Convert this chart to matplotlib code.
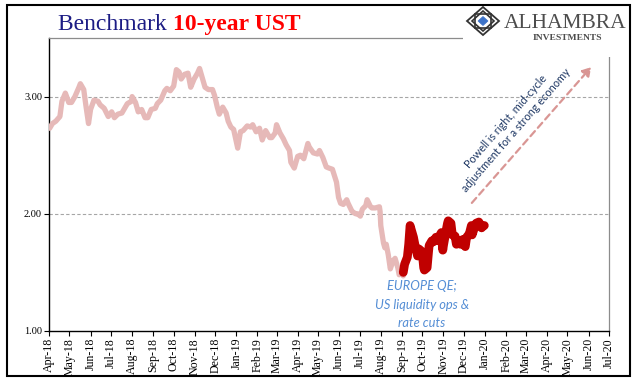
import matplotlib
matplotlib.use('Agg')
import matplotlib.pyplot as plt
from matplotlib.patches import Rectangle, Polygon, FancyArrowPatch
import pandas as pd

# ---------------- data ----------------
pink_dates = ['2018-04-02','2018-04-06','2018-04-11','2018-04-17','2018-04-20','2018-04-25','2018-04-30',
              '2018-05-04','2018-05-09','2018-05-15','2018-05-17','2018-05-22','2018-05-25','2018-05-29',
              '2018-06-01','2018-06-06','2018-06-12','2018-06-15','2018-06-21','2018-06-27',
              '2018-07-02','2018-07-06','2018-07-11','2018-07-17','2018-07-20','2018-07-25','2018-07-31',
              '2018-08-01','2018-08-06','2018-08-10','2018-08-15','2018-08-20','2018-08-24','2018-08-29',
              '2018-09-04','2018-09-07','2018-09-12','2018-09-18','2018-09-21','2018-09-26',
              '2018-10-01','2018-10-05','2018-10-09','2018-10-12','2018-10-17','2018-10-22','2018-10-26','2018-10-31',
              '2018-11-05','2018-11-08','2018-11-13','2018-11-16','2018-11-21','2018-11-27','2018-11-30',
              '2018-12-04','2018-12-07','2018-12-12','2018-12-17','2018-12-20','2018-12-24','2018-12-28',
              '2019-01-03','2019-01-07','2019-01-11','2019-01-17','2019-01-22','2019-01-25','2019-01-30',
              '2019-02-04','2019-02-08','2019-02-13','2019-02-19','2019-02-22','2019-02-27',
              '2019-03-01','2019-03-06','2019-03-11','2019-03-15','2019-03-20','2019-03-22','2019-03-27',
              '2019-04-01','2019-04-05','2019-04-10','2019-04-16','2019-04-18','2019-04-24','2019-04-30',
              '2019-05-03','2019-05-08','2019-05-13','2019-05-17','2019-05-22','2019-05-28','2019-05-31',
              '2019-06-03','2019-06-07','2019-06-12','2019-06-14','2019-06-19','2019-06-20','2019-06-25','2019-06-28',
              '2019-07-02','2019-07-05','2019-07-10','2019-07-12','2019-07-17','2019-07-19','2019-07-24','2019-07-30','2019-07-31',
              '2019-08-01','2019-08-05','2019-08-07','2019-08-09','2019-08-12','2019-08-15','2019-08-19','2019-08-22',
              '2019-08-26','2019-08-28','2019-08-30','2019-09-03']
pink_vals = [2.73,2.77,2.79,2.83,2.96,3.03,2.95,
             2.95,3.00,3.08,3.11,3.06,2.93,2.77,
             2.89,2.97,2.96,2.93,2.90,2.83,
             2.87,2.82,2.85,2.86,2.89,2.94,2.96,
             3.00,2.95,2.87,2.89,2.82,2.82,2.89,
             2.90,2.94,2.97,3.05,3.07,3.05,
             3.09,3.23,3.21,3.15,3.19,3.20,3.08,3.15,
             3.20,3.24,3.14,3.08,3.06,3.06,3.01,
             2.91,2.85,2.91,2.86,2.79,2.74,2.72,
             2.56,2.70,2.71,2.75,2.74,2.76,2.70,
             2.73,2.63,2.71,2.65,2.65,2.69,
             2.76,2.69,2.64,2.59,2.54,2.44,2.39,
             2.49,2.50,2.47,2.60,2.57,2.52,2.51,
             2.54,2.48,2.40,2.39,2.38,2.27,2.14,
             2.09,2.08,2.12,2.09,2.03,2.02,2.00,2.00,
             1.98,2.04,2.07,2.12,2.06,2.05,2.05,2.06,2.02,
             1.90,1.75,1.71,1.74,1.65,1.53,1.60,1.62,
             1.54,1.48,1.50,1.47]

red_dates = ['2019-09-03','2019-09-05','2019-09-09','2019-09-11','2019-09-13','2019-09-16','2019-09-18',
             '2019-09-20','2019-09-24','2019-09-26','2019-09-30','2019-10-02','2019-10-03','2019-10-04',
             '2019-10-08','2019-10-10','2019-10-11','2019-10-15','2019-10-17','2019-10-21','2019-10-23',
             '2019-10-25','2019-10-29','2019-10-31','2019-11-01','2019-11-05','2019-11-07','2019-11-08',
             '2019-11-12','2019-11-14','2019-11-18','2019-11-20','2019-11-22','2019-11-26','2019-11-29',
             '2019-12-03','2019-12-05','2019-12-09','2019-12-12','2019-12-13','2019-12-17','2019-12-19',
             '2019-12-23','2019-12-26','2019-12-27','2019-12-30','2019-12-31']
red_vals = [1.50,1.57,1.63,1.74,1.90,1.84,1.80,
            1.74,1.64,1.70,1.68,1.60,1.54,1.52,
            1.54,1.67,1.73,1.77,1.76,1.80,1.77,
            1.80,1.84,1.69,1.73,1.86,1.92,1.94,
            1.92,1.82,1.81,1.74,1.77,1.74,1.78,
            1.72,1.80,1.83,1.90,1.82,1.89,1.92,
            1.93,1.90,1.88,1.90,1.90]

month_ticks = ['Apr-18','May-18','Jun-18','Jul-18','Aug-18','Sep-18','Oct-18','Nov-18','Dec-18',
               'Jan-19','Feb-19','Mar-19','Apr-19','May-19','Jun-19','Jul-19','Aug-19','Sep-19',
               'Oct-19','Nov-19','Dec-19','Jan-20','Feb-20','Mar-20','Apr-20','May-20','Jun-20','Jul-20']
y_ticks = [1.00, 2.00, 3.00]

# ---------------- figure ----------------
W, H = 641, 381
fig = plt.figure(figsize=(W/100, H/100), dpi=100)
fig.patch.set_facecolor('white')

def fx(px):
    return px / W

def fy(py):
    return 1 - py / H

ax = fig.add_axes([fx(49), fy(331), fx(609) - fx(49), fy(38) - fy(331)])

pd_pink = pd.to_datetime(pink_dates)
pd_red = pd.to_datetime(red_dates)
ax.plot(pd_pink, pink_vals, color='#E6B9B8', lw=3.8, solid_capstyle='round', solid_joinstyle='round', zorder=3)
ax.plot(pd_red, red_vals, color='#C00000', lw=6.3, solid_capstyle='round', solid_joinstyle='round', zorder=4)

tick_dates = pd.to_datetime(['01-' + m for m in month_ticks], format='%d-%b-%y')
ax.set_xlim(tick_dates[0], tick_dates[-1])
ax.set_ylim(1.0, 3.5)
ax.set_xticks(tick_dates)
ax.set_xticklabels(month_ticks, rotation=90, fontsize=8.6, family='Liberation Serif')
ax.set_yticks(y_ticks)
ax.set_yticklabels(['%.2f' % v for v in y_ticks], fontsize=7.5, family='Liberation Serif')
ax.tick_params(axis='x', direction='out', length=3.5, width=0.8, pad=1.5)
ax.tick_params(axis='y', direction='out', length=3.5, width=0.8, pad=1.5)

for v in y_ticks[1:]:
    ax.axhline(v, color='#A6A6A6', lw=0.8, ls=(0, (3, 2)), zorder=1)

for s in ['left', 'bottom']:
    ax.spines[s].set_color('black')
    ax.spines[s].set_linewidth(1.0)
for s in ['top', 'right']:
    ax.spines[s].set_color('#8C8C8C')
    ax.spines[s].set_linewidth(0.9)

# annotations
blue = '#558ED5'
fig.text(fx(422), fy(286), 'EUROPE QE;', color=blue, fontsize=9.3, style='italic',
         family='Lato', ha='center', va='center')
fig.text(fx(422), fy(305), 'US liquidity ops &', color=blue, fontsize=9.3, style='italic',
         family='Lato', ha='center', va='center')
fig.text(fx(422), fy(323), 'rate cuts', color=blue, fontsize=9.3, style='italic',
         family='Lato', ha='center', va='center')

fig.text(fx(511), fy(126), 'Powell is right, mid-cycle\nadjustment for a strong economy',
         color='#1F3864', fontsize=7.8, family='Lato', ha='center', va='center',
         rotation=49, rotation_mode='anchor', linespacing=1.25)

arr = FancyArrowPatch((fx(470), fy(205)), (fx(593), fy(65)), transform=fig.transFigure,
                      arrowstyle='-|>,head_length=5,head_width=3', color='#D99694',
                      lw=1.6, ls=(0, (3, 2)), mutation_scale=1)
fig.patches.append(arr)

# white area behind logo
fig.patches.append(Rectangle((fx(463), fy(57)), fx(629) - fx(463), fy(7) - fy(57),
                             transform=fig.transFigure, facecolor='white', edgecolor='none', zorder=2))

# logo icon
cx, cy = 483, 21
outer = Polygon([(fx(cx - 16), fy(cy)), (fx(cx), fy(cy - 14)), (fx(cx + 16), fy(cy)), (fx(cx), fy(cy + 14))],
                closed=True, transform=fig.transFigure, facecolor='white', edgecolor='#333333', lw=1.3, zorder=3)
fig.patches.append(outer)
sq = Rectangle((fx(cx - 8), fy(cy + 7)), fx(16), fy(0) - fy(14), transform=fig.transFigure,
               facecolor='none', edgecolor='#333333', lw=1.2, zorder=3)
fig.patches.append(sq)
mid = Polygon([(fx(cx - 11), fy(cy)), (fx(cx), fy(cy - 10)), (fx(cx + 11), fy(cy)), (fx(cx), fy(cy + 10))],
              closed=True, transform=fig.transFigure, facecolor='none', edgecolor='#333333', lw=1.2, zorder=3)
fig.patches.append(mid)
inner = Polygon([(fx(cx - 5), fy(cy)), (fx(cx), fy(cy - 4.5)), (fx(cx + 5), fy(cy)), (fx(cx), fy(cy + 4.5))],
                closed=True, transform=fig.transFigure, facecolor='#3D73C9', edgecolor='#3D73C9', lw=0.5, zorder=4)
fig.patches.append(inner)

fig.text(fx(504), fy(28), 'ALHAMBRA', color='#4D4D4D', fontsize=15.5, family='Liberation Serif',
         ha='left', va='baseline', zorder=5)
fig.text(fx(567), fy(40), 'INVESTMENTS', color='#4D4D4D', fontsize=6.8, family='Liberation Serif',
         weight='bold', ha='center', va='baseline', zorder=5)

# title
t1 = fig.text(fx(58), fy(30), 'Benchmark ', color='#1C1C84', fontsize=17, family='Liberation Serif',
              ha='left', va='baseline')
ax.annotate('10-year UST', xy=(1, 0), xycoords=t1, color='#FF0000', fontsize=17,
            family='Liberation Serif', weight='bold', ha='left', va='bottom', annotation_clip=False)

# outer border
fig.patches.append(Rectangle((fx(7), fy(376)), fx(630) - fx(7), fy(5) - fy(376),
                             transform=fig.transFigure, facecolor='none', edgecolor='black', lw=1.5, zorder=6))

fig.savefig('out.png', dpi=100, facecolor='white')
